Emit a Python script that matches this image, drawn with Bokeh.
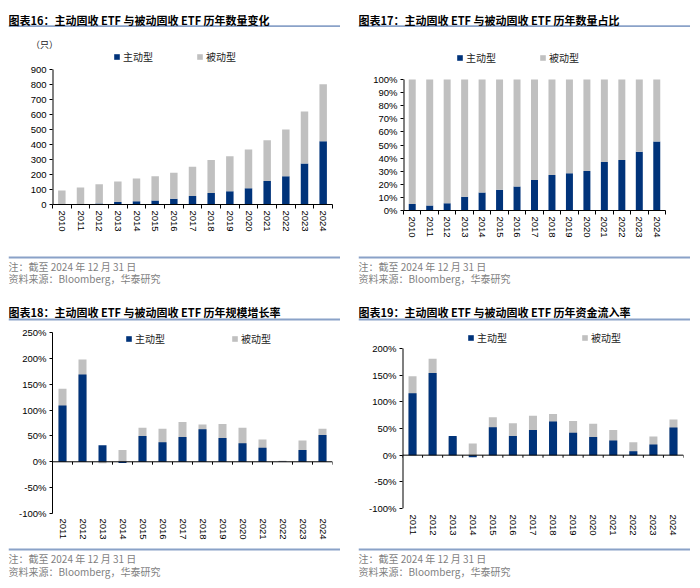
from bokeh.plotting import figure
from bokeh.models import (Range1d, LinearAxis, FixedTicker, Legend, LegendItem, Label, Span,
                          ColumnDataSource, PrintfTickFormatter)
from bokeh.layouts import column, row
from bokeh.embed import file_html
from bokeh.resources import INLINE

# ---------------- data ----------------
years_a = ["2010", "2011", "2012", "2013", "2014", "2015", "2016", "2017",
           "2018", "2019", "2020", "2021", "2022", "2023", "2024"]
years_b = ["2011", "2012", "2013", "2014", "2015", "2016", "2017",
           "2018", "2019", "2020", "2021", "2022", "2023", "2024"]

# Fig16: number of ETFs (只)
count_active = [4, 4, 6, 16, 22, 27, 38, 56, 76, 89, 109, 156, 189, 273, 422]
count_passive = [89, 109, 129, 137, 151, 162, 173, 195, 220, 233, 258, 273, 311, 347, 380]
ticks16 = [0, 100, 200, 300, 400, 500, 600, 700, 800, 900]

# Fig17: share of number (%)
share_active = [4.9, 3.8, 5.6, 10.5, 13.8, 15.9, 18.4, 23.3, 27.1, 28.4, 30.2, 37.1, 38.6, 44.8, 52.7]
share_passive = [95.1, 96.2, 94.4, 89.5, 86.2, 84.1, 81.6, 76.7, 72.9, 71.6, 69.8, 62.9, 61.4, 55.2, 47.3]
ticks17 = [0, 10, 20, 30, 40, 50, 60, 70, 80, 90, 100]

# Fig18: AUM growth rate (%)
growth_active = [109, 169, 32, -2.5, 50, 38, 48, 63, 46, 36, 27, 0.5, 23, 52]
growth_passive = [141, 198, -3, 23, 66, 64, 77, 72, 73, 66, 43, 2, 41, 64]
ticks18 = [-100, -50, 0, 50, 100, 150, 200, 250]

# Fig19: fund inflow rate (%)
flow_active = [116, 154, 36, -4, 52.5, 36, 47, 63, 42, 34, 27.5, 7.5, 20, 52]
flow_passive = [148, 181, 33, 22, 71, 60, 74, 77, 64, 59, 47, 24, 35, 67]
ticks19 = [-100, -50, 0, 50, 100, 150, 200]

titles = ["图表16：主动固收 ETF 与被动固收 ETF 历年数量变化",
          "图表17：主动固收 ETF 与被动固收 ETF 历年数量占比",
          "图表18：主动固收 ETF 与被动固收 ETF 历年规模增长率",
          "图表19：主动固收 ETF 与被动固收 ETF 历年资金流入率"]
note1 = "注：截至 2024 年 12 月 31 日"
note2 = "资料来源：Bloomberg，华泰研究"
legend_labels = ["主动型", "被动型"]
unit16 = "（只）"

# ---------------- style ----------------
NAVY = "#00337A"
GRAY = "#C0C0C0"
RULE = "#8AA2C8"
CJK = "Noto Sans CJK SC"
LAT = "Liberation Sans"
PW = 332
NOTE_C = "#7F7F7F"


def strip(height, items, rule_y):
    f = figure(width=PW, height=height, x_range=Range1d(0, PW), y_range=Range1d(0, height),
               toolbar_location=None, output_backend="svg", min_border=0,
               x_axis_location=None, y_axis_location=None, outline_line_color=None,
               frame_align=False)
    f.grid.visible = False
    f.add_layout(Span(location=rule_y, dimension="width", line_color=RULE, line_width=1.8))
    for (txt, x, y, size, bold, color, align) in items:
        f.add_layout(Label(x=x, y=y, text=txt, text_font=CJK, text_font_size=size,
                           text_font_style="bold" if bold else "normal", text_color=color,
                           text_align=align, text_baseline="middle"))
    return f


def chart(years, act, pas, stacked, H, fig_top, frame_top, data_top, data_bot, left, right,
          yr, yticks, fmt, leg, zero_inside, cat_standoff):
    n = len(years)
    mb_top = frame_top - fig_top
    mb_bot = fig_top + H - data_bot
    ext = (data_top - frame_top) * (yr[1] - yr[0]) / (data_bot - data_top)
    p = figure(width=PW, height=H, x_range=Range1d(0, n),
               y_range=Range1d(yr[0], yr[1] + ext), toolbar_location=None,
               output_backend="svg", x_axis_location=None, min_border_left=left,
               min_border_right=right, min_border_top=mb_top, min_border_bottom=mb_bot,
               outline_line_color=None, frame_align=False)
    p.grid.visible = False
    centers = [i + 0.5 for i in range(n)]
    src = ColumnDataSource(dict(xc=centers, year=years, act=act, pas=pas))
    if stacked:
        r_act, r_pas = p.vbar_stack(["act", "pas"], x="xc", width=0.4, color=[NAVY, GRAY],
                                    line_color=None, source=src)
    else:
        r_pas = p.vbar(x="xc", top="pas", bottom=0, width=0.4, fill_color=GRAY,
                       line_color=None, source=src)
        r_act = p.vbar(x="xc", top="act", bottom=0, width=0.4, fill_color=NAVY,
                       line_color=None, source=src)

    # y axis
    ya = p.yaxis[0]
    ya.ticker = FixedTicker(ticks=yticks)
    ya.formatter = PrintfTickFormatter(format=fmt)
    ya.major_tick_out = 3
    ya.major_tick_in = 0
    ya.minor_tick_line_color = None
    ya.major_tick_line_color = "black"
    ya.major_label_text_font = LAT
    ya.major_label_text_font_size = "9.5px"
    ya.major_label_text_color = "black"
    ya.major_label_standoff = 3
    if ext > 0:
        ya.axis_line_color = None
        p.segment(x0=[0], y0=[yr[0]], x1=[0], y1=[yr[1]], line_color="black", line_width=2)
    else:
        ya.axis_line_color = "black"

    bounds = list(range(n + 1))
    if not zero_inside:
        ta = LinearAxis(ticker=FixedTicker(ticks=bounds),
                        major_label_overrides={b: "" for b in bounds},
                        major_tick_out=4, major_tick_in=0, minor_tick_line_color=None,
                        axis_line_color="black", major_tick_line_color="black",
                        major_label_text_font_size="1px", major_label_standoff=0)
        p.add_layout(ta, "below")
    else:
        p.add_layout(Span(location=0, dimension="width", line_color="black", line_width=1))
        tl = (yr[1] - yr[0]) * 0.016
        p.segment(x0=bounds, y0=[0] * len(bounds), x1=bounds, y1=[-tl] * len(bounds),
                  line_color="black", line_width=1)
    ca = LinearAxis(ticker=FixedTicker(ticks=centers),
                    major_label_overrides={c: y for c, y in zip(centers, years)},
                    major_tick_out=0, major_tick_in=0, axis_line_color=None,
                    major_tick_line_color=None, minor_tick_line_color=None,
                    major_label_orientation="vertical",
                    major_label_text_font=LAT, major_label_text_font_size="9.5px",
                    major_label_text_color="black", major_label_standoff=cat_standoff)
    p.add_layout(ca, "below")

    lx, lcy, sp = leg
    legend = Legend(items=[LegendItem(label=legend_labels[0], renderers=[r_act]),
                           LegendItem(label=legend_labels[1], renderers=[r_pas])],
                    orientation="horizontal", location=(lx, data_bot - lcy - 8), spacing=sp,
                    padding=0, margin=0, border_line_color=None, background_fill_alpha=0,
                    glyph_width=7, glyph_height=7, label_standoff=3, label_height=10,
                    label_text_font=CJK, label_text_font_size="10px",
                    label_text_color="#222222")
    p.add_layout(legend)
    return p


def foot(height, y1, y2, rule_y):
    return strip(height, [(note1, 0, y1, "10px", False, NOTE_C, "left"),
                          (note2, 0, y2, "10px", False, NOTE_C, "left")], rule_y)


# top-left
h16 = strip(42, [(titles[0], 0, 31, "11px", True, "black", "left"),
                 (unit16, 36, 6, "9px", False, "#222222", "center")], 24.3)
c16 = chart(years_a, count_active, count_passive, True, 202, 50, 50, 69, 204, 44, 8,
            (0, 900), ticks16, "%d", (61, 56, 43), False, 2)
f16 = foot(38, 24.5, 12.5, 33)

# top-right
h17 = strip(42, [(titles[1], 0, 31, "11px", True, "black", "left")], 24.3)
c17 = chart(years_a, share_active, share_passive, True, 202, 50, 50, 79, 210, 45, 25,
            (0, 100), ticks17, "%d%%", (53, 57, 43), False, 2)
f17 = foot(38, 24.5, 12.5, 33)

# bottom-left
h18 = strip(32, [(titles[2], 0, 10.3, "11px", True, "black", "left")], 3)
c18 = chart(years_b, growth_active, growth_passive, False, 223, 322, 332, 332, 513, 44, 8,
            (-100, 250), ticks18, "%d%%", (73, 338, 66), True, 5)
f18 = foot(35, 21.7, 9, 31)

# bottom-right
h19 = strip(32, [(titles[3], 0, 10.3, "11px", True, "black", "left")], 3)
c19 = chart(years_b, flow_active, flow_passive, False, 223, 322, 326, 348, 508, 44, 7,
            (-100, 200), ticks19, "%d%%", (65, 337, 74), True, 6)
f19 = foot(35, 21.7, 9, 31)

layout = column(
    row(column(h16, c16, f16, spacing=0), column(h17, c17, f17, spacing=0), spacing=18),
    row(column(h18, c18, f18, spacing=0), column(h19, c19, f19, spacing=0), spacing=18),
    spacing=0, margin=(8, 8, 8, 8))

open("out.html", "w").write(file_html(layout, INLINE))
